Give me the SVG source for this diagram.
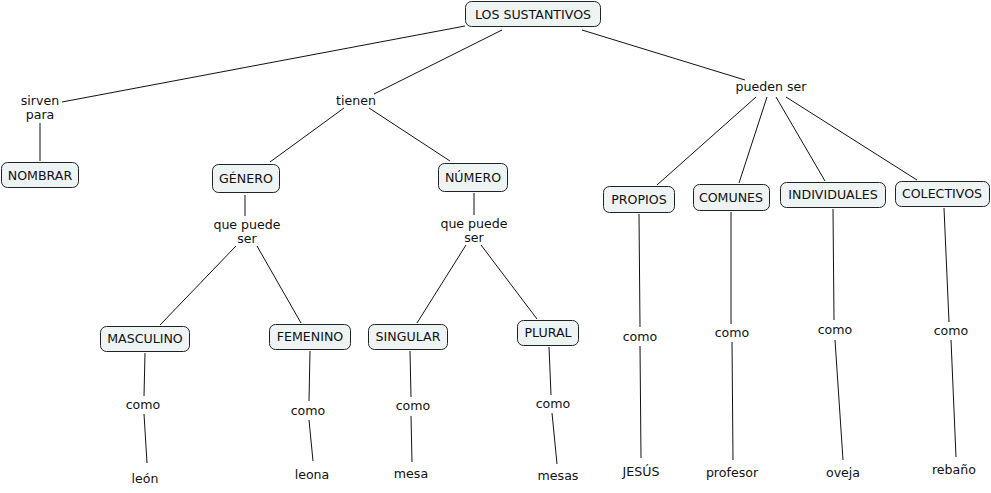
<svg xmlns="http://www.w3.org/2000/svg" width="991" height="493" viewBox="0 0 991 493">
<style>
.n rect{fill:#eef3f4;stroke:#222;stroke-width:1;}
text{font-family:"DejaVu Sans","Liberation Sans",sans-serif;font-size:12.6px;fill:#111;text-anchor:middle;}
#connectors line{stroke:#111;stroke-width:1;}
</style>
<rect width="991" height="493" fill="#fff"/>
<g id="connectors">
<line x1="465" y1="26" x2="62" y2="102"/>
<line x1="502" y1="30" x2="374" y2="94"/>
<line x1="582" y1="30" x2="745" y2="80"/>
<line x1="40" y1="123" x2="40" y2="161"/>
<line x1="344" y1="108" x2="270" y2="162"/>
<line x1="369" y1="108" x2="450" y2="161"/>
<line x1="245" y1="195" x2="245" y2="216"/>
<line x1="474" y1="193" x2="474" y2="215"/>
<line x1="236" y1="246" x2="160" y2="325"/>
<line x1="257" y1="246" x2="301" y2="323"/>
<line x1="466" y1="245" x2="417" y2="323"/>
<line x1="481" y1="245" x2="537" y2="319"/>
<line x1="756" y1="97" x2="657" y2="185"/>
<line x1="767" y1="97" x2="739" y2="183"/>
<line x1="776" y1="97" x2="825" y2="181"/>
<line x1="786" y1="97" x2="917" y2="180"/>
<line x1="145" y1="353" x2="144" y2="396"/>
<line x1="144" y1="414" x2="147" y2="463"/>
<line x1="310" y1="351" x2="309" y2="401"/>
<line x1="309" y1="420" x2="313" y2="461"/>
<line x1="410" y1="351" x2="411" y2="397"/>
<line x1="411" y1="416" x2="412" y2="462"/>
<line x1="549" y1="347" x2="551" y2="395"/>
<line x1="552" y1="413" x2="557" y2="464"/>
<line x1="639" y1="214" x2="640" y2="327"/>
<line x1="640" y1="346" x2="641" y2="458"/>
<line x1="731" y1="212" x2="731" y2="324"/>
<line x1="732" y1="342" x2="733" y2="460"/>
<line x1="833" y1="209" x2="834" y2="320"/>
<line x1="835" y1="340" x2="843" y2="460"/>
<line x1="944" y1="208" x2="949" y2="322"/>
<line x1="951" y1="340" x2="956" y2="457"/>
</g>
<g id="n-sustantivos" class="n"><rect x="465.5" y="1.5" width="135" height="25" rx="6"/><text x="533" y="19">LOS SUSTANTIVOS</text></g>
<g id="n-nombrar" class="n"><rect x="1.5" y="162.5" width="77" height="25" rx="6"/><text x="40" y="180">NOMBRAR</text></g>
<g id="n-genero" class="n"><rect x="212.5" y="164.5" width="67" height="28" rx="6"/><text x="246" y="183">GÉNERO</text></g>
<g id="n-numero" class="n"><rect x="438.5" y="163.5" width="69" height="28" rx="6"/><text x="473" y="182">NÚMERO</text></g>
<g id="n-masculino" class="n"><rect x="100.5" y="326.5" width="89" height="25" rx="6"/><text x="145" y="343">MASCULINO</text></g>
<g id="n-femenino" class="n"><rect x="269.5" y="324.5" width="81" height="25" rx="6"/><text x="310" y="341">FEMENINO</text></g>
<g id="n-singular" class="n"><rect x="368.5" y="324.5" width="79" height="25" rx="6"/><text x="408" y="341">SINGULAR</text></g>
<g id="n-plural" class="n"><rect x="517.5" y="320.5" width="61" height="25" rx="6"/><text x="548" y="337">PLURAL</text></g>
<g id="n-propios" class="n"><rect x="603.5" y="186.5" width="71" height="26" rx="6"/><text x="639" y="204">PROPIOS</text></g>
<g id="n-comunes" class="n"><rect x="693.5" y="184.5" width="76" height="26" rx="6"/><text x="731" y="202">COMUNES</text></g>
<g id="n-individuales" class="n"><rect x="780.5" y="182.5" width="105" height="25" rx="6"/><text x="833" y="199">INDIVIDUALES</text></g>
<g id="n-colectivos" class="n"><rect x="895.5" y="181.5" width="94" height="25" rx="6"/><text x="942" y="198">COLECTIVOS</text></g>
<g id="l-sirven"><text x="40" y="105">sirven</text><text x="40" y="119">para</text></g>
<g id="l-tienen"><text x="356" y="105">tienen</text></g>
<g id="l-pueden"><text x="771" y="91">pueden ser</text></g>
<g id="l-qps1"><text x="247" y="229">que puede</text><text x="247" y="243">ser</text></g>
<g id="l-qps2"><text x="474" y="228">que puede</text><text x="474" y="242">ser</text></g>
<g id="l-como1"><text x="143" y="409">como</text></g>
<g id="l-leon"><text x="145" y="483">león</text></g>
<g id="l-como2"><text x="308" y="415">como</text></g>
<g id="l-leona"><text x="312" y="479">leona</text></g>
<g id="l-como3"><text x="413" y="410">como</text></g>
<g id="l-mesa"><text x="411" y="478">mesa</text></g>
<g id="l-como4"><text x="553" y="408">como</text></g>
<g id="l-mesas"><text x="558" y="480">mesas</text></g>
<g id="l-como5"><text x="640" y="341">como</text></g>
<g id="l-jesus"><text x="641" y="476">JESÚS</text></g>
<g id="l-como6"><text x="732" y="337">como</text></g>
<g id="l-profesor"><text x="732" y="477">profesor</text></g>
<g id="l-como7"><text x="835" y="334">como</text></g>
<g id="l-oveja"><text x="843" y="477">oveja</text></g>
<g id="l-como8"><text x="951" y="335">como</text></g>
<g id="l-rebano"><text x="954" y="474">rebaño</text></g>
</svg>
